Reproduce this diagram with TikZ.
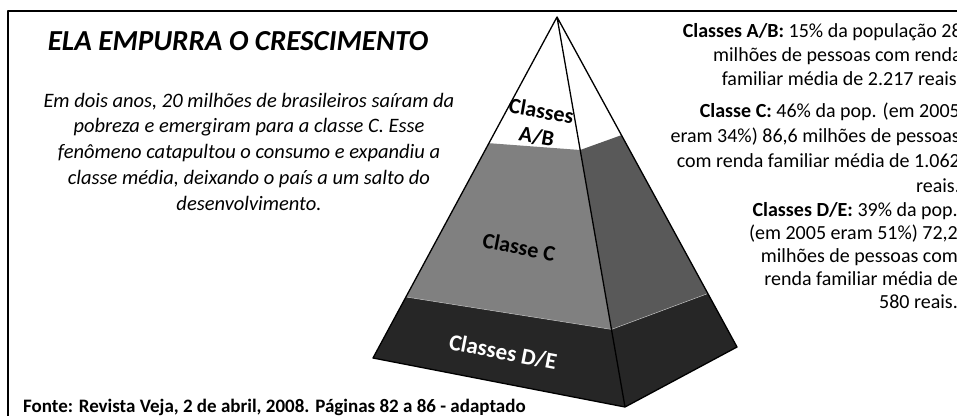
\documentclass[tikz,border=0pt]{standalone}
\usepackage{fontspec}
\setmainfont{Carlito}
\usetikzlibrary{calc}
\definecolor{faceleft}{HTML}{808080}
\definecolor{faceright}{HTML}{595959}
\definecolor{facebase}{HTML}{262626}
\begin{document}
\begin{tikzpicture}[x=1pt,y=-1pt,line join=round,line cap=round,
  txt/.style={inner sep=0pt,font=\fontsize{20}{24}\selectfont},
  lab/.style={inner sep=0pt,font=\fontsize{22}{26}\selectfont\bfseries,align=center}]
\useasboundingbox (0,0) rectangle (957,415);
\clip (0,0) rectangle (957,415);
\draw[line width=1.3pt] (8,11) rectangle (990,440);
\coordinate (T) at (557,17);
\coordinate (L) at (373,358);
\coordinate (F) at (625,407);
\coordinate (R) at (737,347);
\coordinate (L1) at ($(T)!0.37!(L)$);
\coordinate (F1) at ($(T)!0.341!(F)$);
\coordinate (R1) at ($(T)!0.358!(R)$);
\coordinate (L2) at ($(T)!0.821!(L)$);
\coordinate (F2) at ($(T)!0.801!(F)$);
\coordinate (R2) at ($(T)!0.838!(R)$);
\fill[faceleft] (L1)--(F1)--(F2)--(L2)--cycle;
\fill[faceright] (F1)--(R1)--(R2)--(F2)--cycle;
\fill[facebase] (L2)--(F2)--(F)--(L)--cycle;
\fill[facebase] (F2)--(R2)--(R)--(F)--cycle;
\draw[gray!50,line width=0.5pt] (L2)--(F2)--(R2);
\draw[line width=1.3pt] (T)--(L)--(F)--(R)--cycle (T)--(F);
\node[lab,rotate=-10] (labAB) at (539,124) {Classes\\A/B};
\node[lab,rotate=-11] (labC) at (519,247) {Classe C};
\node[lab,rotate=-11,white,font=\fontsize{23}{27}\selectfont\bfseries] (labDE) at (503,352) {Classes D/E};
\node[inner sep=0pt,anchor=base,font=\fontsize{29}{34}\selectfont\bfseries\itshape] (title) at (238,50) {ELA EMPURRA O CRESCIMENTO};
\node[inner sep=0pt,anchor=base,align=center,font=\fontsize{20.5}{25.7}\selectfont\itshape] (intro) at (249,210)
  {Em dois anos, 20 milhões de brasileiros saíram da\\pobreza e emergiram para a classe C. Esse\\fenômeno catapultou o consumo e expandiu a\\classe média, deixando o país a um salto do\\desenvolvimento.};
\node[txt,anchor=base east,align=right] (textAB) at (962,85)
  {\textbf{Classes A/B:} 15\% da população 28\\milhões de pessoas com renda\\familiar média de 2.217 reais.};
\node[txt,anchor=base east,align=right,font=\fontsize{20}{25}\selectfont] (textC) at (960,192)
  {\textbf{Classe C:} 46\% da pop. (em 2005\\eram 34\%) 86,6 milhões de pessoas\\com renda familiar média de 1.062\\reais.};
\node[txt,anchor=base east,align=right,font=\fontsize{20}{23}\selectfont] (textDE) at (958,308)
  {\textbf{Classes D/E:} 39\% da pop.\\(em 2005 eram 51\%) 72,2\\milhões de pessoas com\\renda familiar média de\\580 reais.};
\node[inner sep=0pt,anchor=base west,font=\fontsize{19}{22}\selectfont\bfseries] (fonte) at (23,412)
  {Fonte: Revista Veja, 2 de abril, 2008. Páginas 82 a 86 - adaptado};
\end{tikzpicture}
\end{document}
